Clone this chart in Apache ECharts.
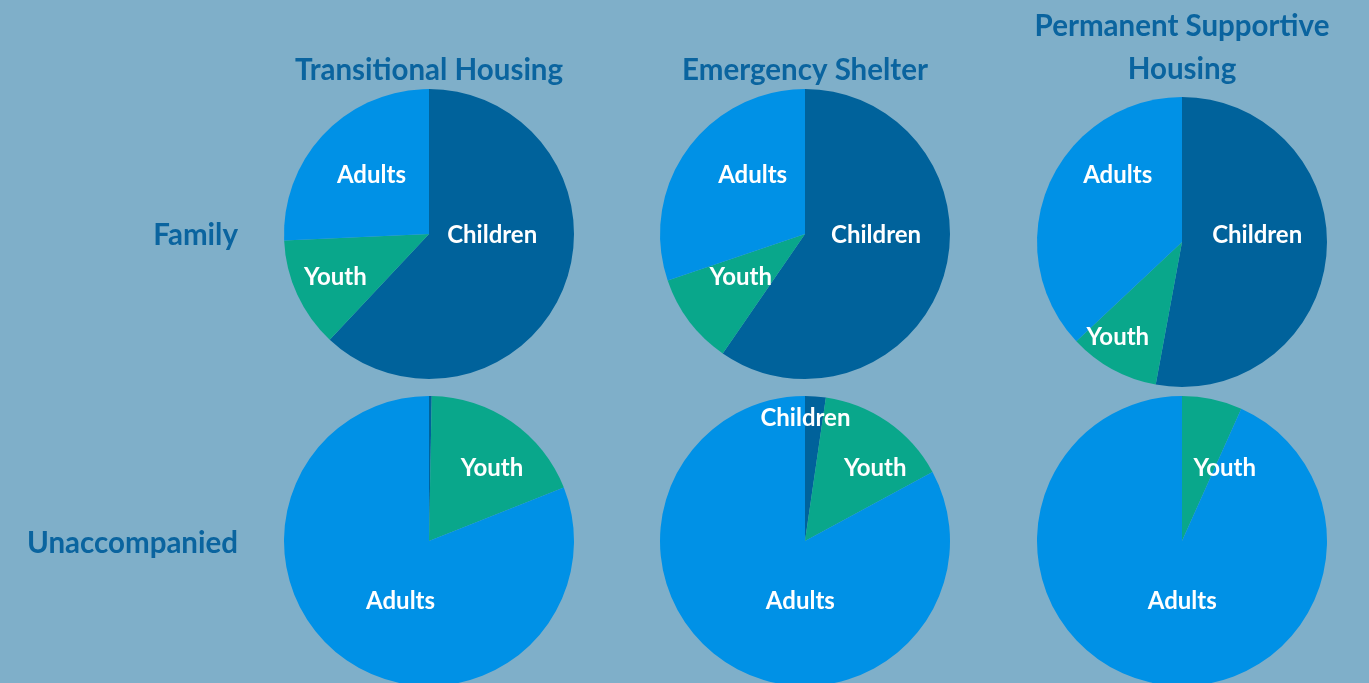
<!DOCTYPE html>
<html>
<head>
	<meta charset="utf-8">
	<title>Housing pies</title>
	<style>
		html, body { margin: 0; padding: 0; background: #7fafc9; }
		#chart1 { width: 1369px; height: 683px; }
	</style>
</head>
<body>
	<div id="chart1"></div>

	<script src="https://cdn.jsdelivr.net/npm/echarts@6/dist/echarts.min.js"></script>
	<script type="text/javascript">

    // data (percent of each program type)
    var columns = ['Transitional Housing', 'Emergency Shelter', 'Permanent Supportive\nHousing'];
    var rows = ['Family', 'Unaccompanied'];
    var groups = ['Children', 'Youth', 'Adults'];

    var familyChildren = [62.0, 59.6, 52.9];
    var familyYouth    = [12.3, 10.2, 10.1];
    var familyAdults   = [25.7, 30.2, 37.0];

    var unaccChildren  = [0.3, 2.3, 0];
    var unaccYouth     = [18.7, 14.8, 6.7];
    var unaccAdults    = [81.0, 82.9, 93.3];

    // layout
    var colX = [429, 805, 1182];
    var rowY = [[234, 234, 242], [541, 541, 541]];
    var radius = 145;
    var colors = {Children: '#00629b', Youth: '#09a78b', Adults: '#0091e6'};
    var titleColor = '#0a649f';
    var font = 'Lato, "Open Sans", sans-serif';

    // label nudges so texts sit where the picture has them
    var nudge = [
        [ {Children: [-7, -27], Youth: [-25, 12], Adults: [-3, -7]},
          {Children: [-1, -21], Youth: [-4, -2], Adults: [9, -15]},
          {Children: [0, -14], Youth: [-28, 29], Adults: [5, -37]} ],
        [ {Children: [0, 0], Youth: [20, -11], Adults: [14, -2]},
          {Children: [-5, -47], Youth: [27, -11], Adults: [34, -5]},
          {Children: [0, 0], Youth: [27, 1], Adults: [16, -14]} ]
    ];

    function buildSeries(){
        var series = [];
        var tables = [[familyChildren, familyYouth, familyAdults], [unaccChildren, unaccYouth, unaccAdults]];
        for (var r = 0; r < 2; r++){
            for (var c = 0; c < 3; c++){
                var data = [];
                for (var g = 0; g < groups.length; g++){
                    var v = tables[r][g][c];
                    var name = groups[g];
                    data.push({
                        name: name,
                        value: v,
                        itemStyle: {color: colors[name]},
                        label: {show: v > 0, offset: nudge[r][c][name]}
                    });
                }
                series.push({
                    type: 'pie',
                    center: [colX[c], rowY[r][c]],
                    radius: [0, radius],
                    startAngle: 90,
                    clockwise: true,
                    avoidLabelOverlap: false,
                    silent: true,
                    animation: false,
                    itemStyle: {borderWidth: 0},
                    label: {
                        position: 'inside',
                        color: '#ffffff',
                        fontFamily: font,
                        fontSize: 24,
                        fontWeight: 'bold',
                        formatter: '{b}'
                    },
                    labelLine: {show: false},
                    data: data
                });
            }
        }
        return series;
    }

    function buildTexts(){
        var items = [];
        for (var c = 0; c < columns.length; c++){
            var twoLines = columns[c].indexOf('\n') >= 0;
            items.push({
                type: 'text',
                x: colX[c],
                y: twoLines ? 48 : 70,
                style: {
                    text: columns[c],
                    fill: titleColor,
                    font: 'bold 29.5px ' + font,
                    textAlign: 'center',
                    textVerticalAlign: 'middle',
                    lineHeight: 43
                }
            });
        }
        var rowLabelY = [235, 543];
        for (var r = 0; r < rows.length; r++){
            items.push({
                type: 'text',
                x: 238,
                y: rowLabelY[r],
                style: {
                    text: rows[r],
                    fill: titleColor,
                    font: 'bold 29.5px ' + font,
                    textAlign: 'right',
                    textVerticalAlign: 'middle'
                }
            });
        }
        return items;
    }

    var myChart = echarts.init(document.getElementById('chart1'));
    myChart.setOption({
        backgroundColor: '#7fafc9',
        animation: false,
        graphic: buildTexts(),
        series: buildSeries()
    });

	</script>
</body>
</html>
